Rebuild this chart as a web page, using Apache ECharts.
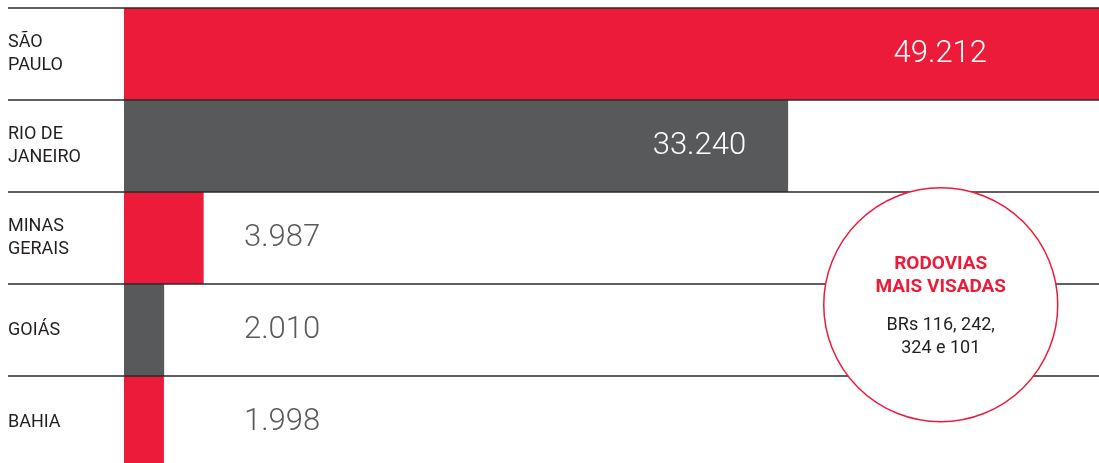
<!DOCTYPE html>
<html>
<head>
<meta charset="utf-8">
<script src="https://cdn.jsdelivr.net/npm/echarts@6/dist/echarts.min.js"></script>
<style>
  html, body { margin: 0; padding: 0; background: #fff; }
  #chart { width: 1099px; height: 463px; }
</style>
</head>
<body>
<div id="chart"></div>
<script>
// data
const states = ['SÃO\nPAULO', 'RIO DE\nJANEIRO', 'MINAS\nGERAIS', 'GOIÁS', 'BAHIA'];
const occurrences = [49212, 33240, 3987, 2010, 1998];
const noteTitle = ['RODOVIAS', 'MAIS VISADAS'];
const noteBody = ['BRs 116, 242,', '324 e 101'];

const RED = '#ed1b3a', GREY = '#58595b', INK = '#231f20';

const fmtNum = v => String(v).replace(/\B(?=(\d{3})+(?!\d))/g, '.');

// label placement: long bars get the number inside, short bars a fixed column
function labelFor(v, i) {
    if (i === 0) return { position: [863, '50%'], align: 'right', color: '#fff' };
    if (i === 1) return { position: 'insideRight', distance: 42, color: '#fff' };
    return { position: [120, '50%'], align: 'left', color: '#5b5b5d' };
}

const chart = echarts.init(document.getElementById('chart'), null, { renderer: 'canvas' });

chart.setOption({
    backgroundColor: '#fff',
    animation: false,
    grid: [
        // last row runs past the bottom edge, like the original
        { left: 8, right: 0, top: 8, height: 460, outerBoundsMode: 'none' },
        { left: 124, right: 0, top: 8, height: 460, outerBoundsMode: 'none' }
    ],
    xAxis: [
        { gridIndex: 0, type: 'value', show: false, min: 0, max: 1 },
        { gridIndex: 1, type: 'value', show: false, min: 0, max: 48800 }
    ],
    yAxis: [
        {
            gridIndex: 0, type: 'category', inverse: true, data: states, z: 10,
            axisLine: { show: false }, axisTick: { show: false },
            axisLabel: {
                inside: true, margin: 0, color: INK,
                fontFamily: 'Roboto', fontSize: 18, lineHeight: 23
            },
            splitLine: { show: true, lineStyle: { color: '#2a2a2a', width: 1.5 } }
        },
        {
            gridIndex: 1, type: 'category', inverse: true, data: states, show: false
        }
    ],
    series: [{
        type: 'bar',
        xAxisIndex: 1, yAxisIndex: 1,
        barWidth: '100%',
        data: occurrences.map((v, i) => ({
            value: v,
            itemStyle: { color: i % 2 === 0 ? RED : GREY },
            label: labelFor(v, i)
        })),
        label: {
            show: true,
            verticalAlign: 'middle',
            fontFamily: 'Roboto', fontWeight: 300, fontSize: 31,
            formatter: p => fmtNum(p.value)
        }
    }],
    graphic: [{
        type: 'group', left: 823, top: 187, z: 100,
        children: [
            {
                type: 'circle', z: 100, shape: { cx: 117, cy: 117, r: 117 },
                style: { fill: '#fff', stroke: RED, lineWidth: 1.5 }
            },
            {
                type: 'text', z: 101, x: 117, y: 275 - 187,
                style: {
                    text: noteTitle.join('\n'), fill: RED, align: 'center', verticalAlign: 'middle',
                    font: 'bold 19px Roboto', lineHeight: 23
                }
            },
            {
                type: 'text', z: 101, x: 117, y: 336 - 187,
                style: {
                    text: noteBody.join('\n'), fill: INK, align: 'center', verticalAlign: 'middle',
                    font: '18px Roboto', lineHeight: 23
                }
            }
        ]
    }]
});
</script>
</body>
</html>
